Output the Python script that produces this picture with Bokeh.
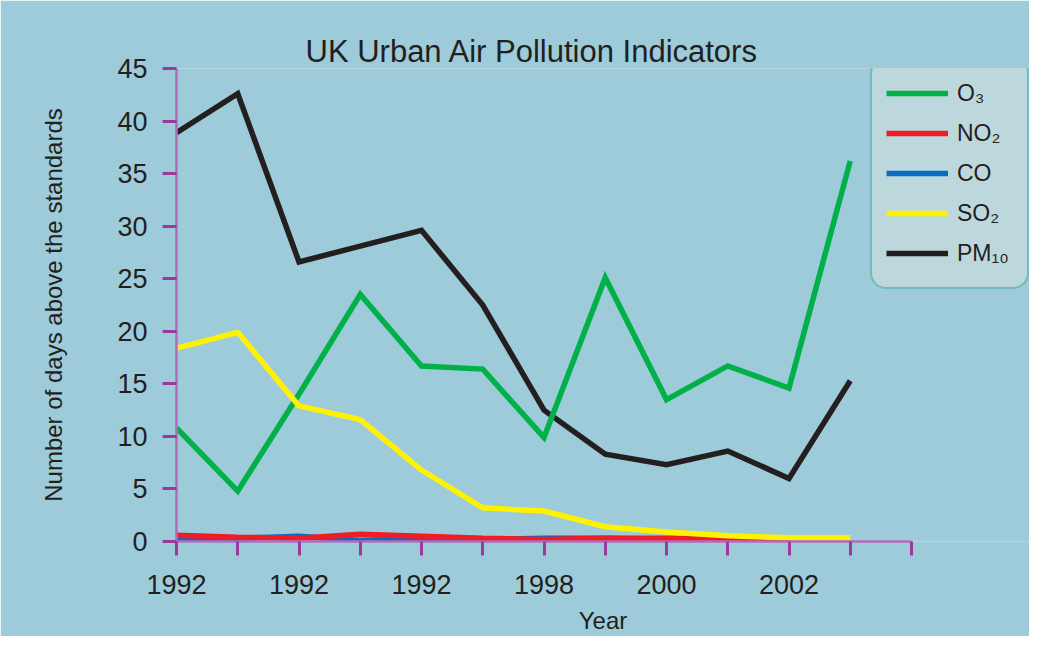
from bokeh.plotting import figure
from bokeh.models import Range1d, FixedTicker, Legend, LegendItem
from bokeh.embed import file_html
from bokeh.resources import INLINE

# ---- data ----
years = [1992, 1993, 1994, 1995, 1996, 1997, 1998, 1999, 2000, 2001, 2002, 2003]
o3 = [10.8, 4.8, 14.0, 23.5, 16.7, 16.4, 9.9, 25.1, 13.5, 16.7, 14.6, 36.2]
pm10 = [38.9, 42.6, 26.6, 28.1, 29.6, 22.5, 12.5, 8.3, 7.3, 8.6, 6.0, 15.3]
so2 = [18.4, 19.9, 12.9, 11.6, 6.8, 3.2, 2.9, 1.4, 0.9, 0.55, 0.35, 0.35]
no2_years = [1992, 1993, 1994, 1995, 1996, 1997, 1998, 1999, 2000, 2001, 2002]
no2 = [0.6, 0.4, 0.3, 0.7, 0.5, 0.3, 0.2, 0.3, 0.3, 0.2, 0.2]
co = [0.3, 0.3, 0.5, 0.1, 0.3, 0.2, 0.3, 0.3, 0.2, 0.2, 0.1]

tick_years = [1992, 1993, 1994, 1995, 1996, 1997, 1998, 1999, 2000, 2001, 2002, 2003, 2004]
tick_labels = ["1992", "", "1992", "", "1992", "", "1998", "", "2000", "", "2002", "", ""]
y_ticks = [0, 5, 10, 15, 20, 25, 30, 35, 40, 45]

series_names = ["O\u2083", "NO\u2082", "CO", "SO\u2082", "PM\u2081\u2080"]
x_title = "Year"
y_title = "Number of days above the standards"

BG = "#9dcbd9"
FONT = "Liberation Sans"
TXT = "#231f20"
AX_LINE = "#b36cb8"
AX_TICK = "#9a3a9e"

W, H = 1029, 636
LEFT, TOP, BOTTOM = 176, 68, 93
frame_w = W - LEFT
px_per_year = 61.25
p = figure(width=W, height=H, output_backend="svg", toolbar_location=None,
           x_range=Range1d(1992, 1992 + frame_w / px_per_year), y_range=Range1d(0, 45),
           min_border_left=LEFT, min_border_right=0, min_border_top=TOP,
           min_border_bottom=BOTTOM,
           title="UK Urban Air Pollution Indicators")
p.background_fill_color = BG
p.border_fill_color = BG
p.outline_line_color = None
p.xgrid.visible = False
p.ygrid.visible = False

p.title.text_font = FONT
p.title.text_font_size = "31px"
p.title.text_font_style = "normal"
p.title.text_color = TXT
p.title.align = "left"
p.title.offset = 129
p.title.standoff = 0

lw = 5.5
r_co = p.line(no2_years, co, line_color="#0a6cc0", line_width=lw)
r_no2 = p.line(no2_years, no2, line_color="#ee1c25", line_width=lw)
r_pm = p.line(years, pm10, line_color="#231f20", line_width=lw, line_join="miter")
r_o3 = p.line(years, o3, line_color="#00b14a", line_width=lw, line_join="miter")
r_so2 = p.line(years, so2, line_color="#fff200", line_width=lw)

# axes
xa = p.xaxis[0]
xa.ticker = FixedTicker(ticks=tick_years)
xa.major_label_overrides = {y: l for y, l in zip(tick_years, tick_labels)}
xa.bounds = (1992, 2004)
xa.minor_tick_line_color = None
xa.axis_label = x_title

ya = p.yaxis[0]
ya.ticker = FixedTicker(ticks=y_ticks)
ya.bounds = (0, 45)
ya.minor_tick_line_color = None
ya.axis_label = y_title

for ax in (xa, ya):
    ax.axis_line_color = AX_LINE
    ax.axis_line_width = 2.5
    ax.major_tick_line_color = AX_TICK
    ax.major_tick_line_width = 3
    ax.major_tick_out = 14
    ax.major_tick_in = 0
    ax.major_label_text_font = FONT
    ax.major_label_text_font_size = "27px"
    ax.major_label_text_color = TXT
    ax.axis_label_text_font = FONT
    ax.axis_label_text_font_size = "24px"
    ax.axis_label_text_font_style = "normal"
    ax.axis_label_text_color = TXT

xa.major_label_standoff = 19
xa.axis_label_standoff = 10
ya.major_label_standoff = 15
ya.axis_label_standoff = 47

# legend
items = [LegendItem(label=series_names[0], renderers=[r_o3]),
         LegendItem(label=series_names[1], renderers=[r_no2]),
         LegendItem(label=series_names[2], renderers=[r_co]),
         LegendItem(label=series_names[3], renderers=[r_so2]),
         LegendItem(label=series_names[4], renderers=[r_pm])]
leg = Legend(items=items, location=(694, 252))
leg.background_fill_color = "#bcd8dd"
leg.background_fill_alpha = 1.0
leg.border_line_color = "#2a9d9a"
leg.border_line_width = 2
leg.label_text_font = FONT
leg.label_text_font_size = "23px"
leg.label_text_color = TXT
leg.glyph_width = 62
leg.glyph_height = 40
leg.label_height = 40
leg.label_width = 56
leg.label_standoff = 9
leg.spacing = 0
leg.padding = 14
leg.margin = 0
if "border_radius" in Legend.properties():
    leg.border_radius = 16
p.add_layout(leg, "center")

open("out.html", "w").write(file_html(p, INLINE))
